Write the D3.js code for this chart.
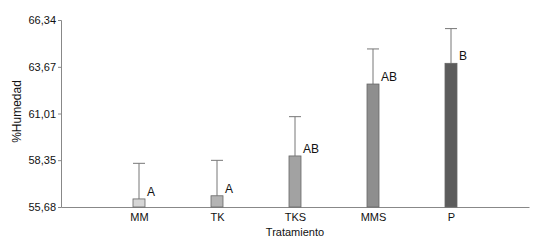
<!DOCTYPE html>
<html>
<head>
<meta charset="utf-8">
<script src="https://cdn.jsdelivr.net/npm/d3@7"></script>
<style>
  body { margin: 0; background: #fff; }
  text { font-family: "Liberation Sans", Arial, sans-serif; fill: #111; }
</style>
</head>
<body>
<div id="chart"></div>
<script>
// treatments and mean humidity
var categories = ["MM", "TK", "TKS", "MMS", "P"];
var means = [56.14, 56.32, 58.59, 62.69, 63.87];
var upper = [58.17, 58.34, 60.83, 64.69, 65.85]; // top of error bar
var groups = ["A", "A", "AB", "AB", "B"];
var barColors = ["#d6d6d6", "#b4b4b4", "#a2a2a2", "#8e8e8e", "#5c5c5c"];
var yTicks = [55.68, 58.35, 61.01, 63.67, 66.34];

var W = 537, H = 242;
var margin = {top: 20, right: 8, bottom: 35, left: 61},
    width = W - margin.left - margin.right,
    height = H - margin.top - margin.bottom;

var svg = d3.select("#chart").append("svg")
    .attr("width", W)
    .attr("height", H);

var g = svg.append("g")
    .attr("transform", "translate(" + margin.left + "," + margin.top + ")");

// categories sit at 1..5 on a 0..6 axis
var x = d3.scaleLinear().domain([0, 6]).range([0, width]);
var y = d3.scaleLinear().domain([55.68, 66.34]).range([height, 0]);
var fmt = function(d) { return d.toFixed(2).replace(".", ","); };

var barW = 12;

var yAxis = d3.axisLeft(y).tickValues(yTicks).tickFormat(fmt).tickSize(3).tickPadding(2);
var ya = g.append("g").call(yAxis);
ya.select(".domain").attr("stroke", "#888");
ya.selectAll("line").attr("stroke", "#888");
ya.selectAll("text").style("font-size", "11px");

var xAxis = d3.axisBottom(x).tickValues([1, 2, 3, 4, 5])
    .tickFormat(function(d) { return categories[d - 1]; })
    .tickSize(0).tickPadding(6).tickSizeOuter(0);
var xa = g.append("g").attr("transform", "translate(0," + height + ")").call(xAxis);
xa.select(".domain").attr("stroke", "#888");
xa.selectAll("text").style("font-size", "11px");

// error bars (upper half only)
var err = g.selectAll(".err").data(categories).enter().append("g").attr("class", "err");
err.append("line")
    .attr("x1", function(d, i) { return x(i + 1); })
    .attr("x2", function(d, i) { return x(i + 1); })
    .attr("y1", function(d, i) { return y(means[i]); })
    .attr("y2", function(d, i) { return y(upper[i]); })
    .attr("stroke", "#777");
err.append("line")
    .attr("x1", function(d, i) { return x(i + 1) - barW / 2; })
    .attr("x2", function(d, i) { return x(i + 1) + barW / 2; })
    .attr("y1", function(d, i) { return y(upper[i]); })
    .attr("y2", function(d, i) { return y(upper[i]); })
    .attr("stroke", "#777");

g.selectAll(".bar").data(categories).enter().append("rect")
    .attr("class", "bar")
    .attr("x", function(d, i) { return x(i + 1) - barW / 2; })
    .attr("width", barW)
    .attr("y", function(d, i) { return y(means[i]); })
    .attr("height", function(d, i) { return height - y(means[i]); })
    .attr("fill", function(d, i) { return barColors[i]; })
    .attr("stroke", "#666")
    .attr("stroke-width", 0.8);

g.selectAll(".grp").data(groups).enter().append("text")
    .attr("class", "grp")
    .attr("x", function(d, i) { return x(i + 1) + barW / 2 + 2; })
    .attr("y", function(d, i) { return y(means[i]) - 3; })
    .style("font-size", "12px")
    .text(function(d) { return d; });

g.append("text")
    .attr("x", x(3))
    .attr("y", height + 29)
    .attr("text-anchor", "middle")
    .style("font-size", "11px")
    .text("Tratamiento");

g.append("text")
    .attr("transform", "translate(" + (17 - margin.left) + "," + (height / 2 - 2) + ") rotate(-90)")
    .attr("text-anchor", "middle")
    .attr("dy", "0.35em")
    .style("font-size", "12px")
    .text("%Humedad");
</script>
</body>
</html>
